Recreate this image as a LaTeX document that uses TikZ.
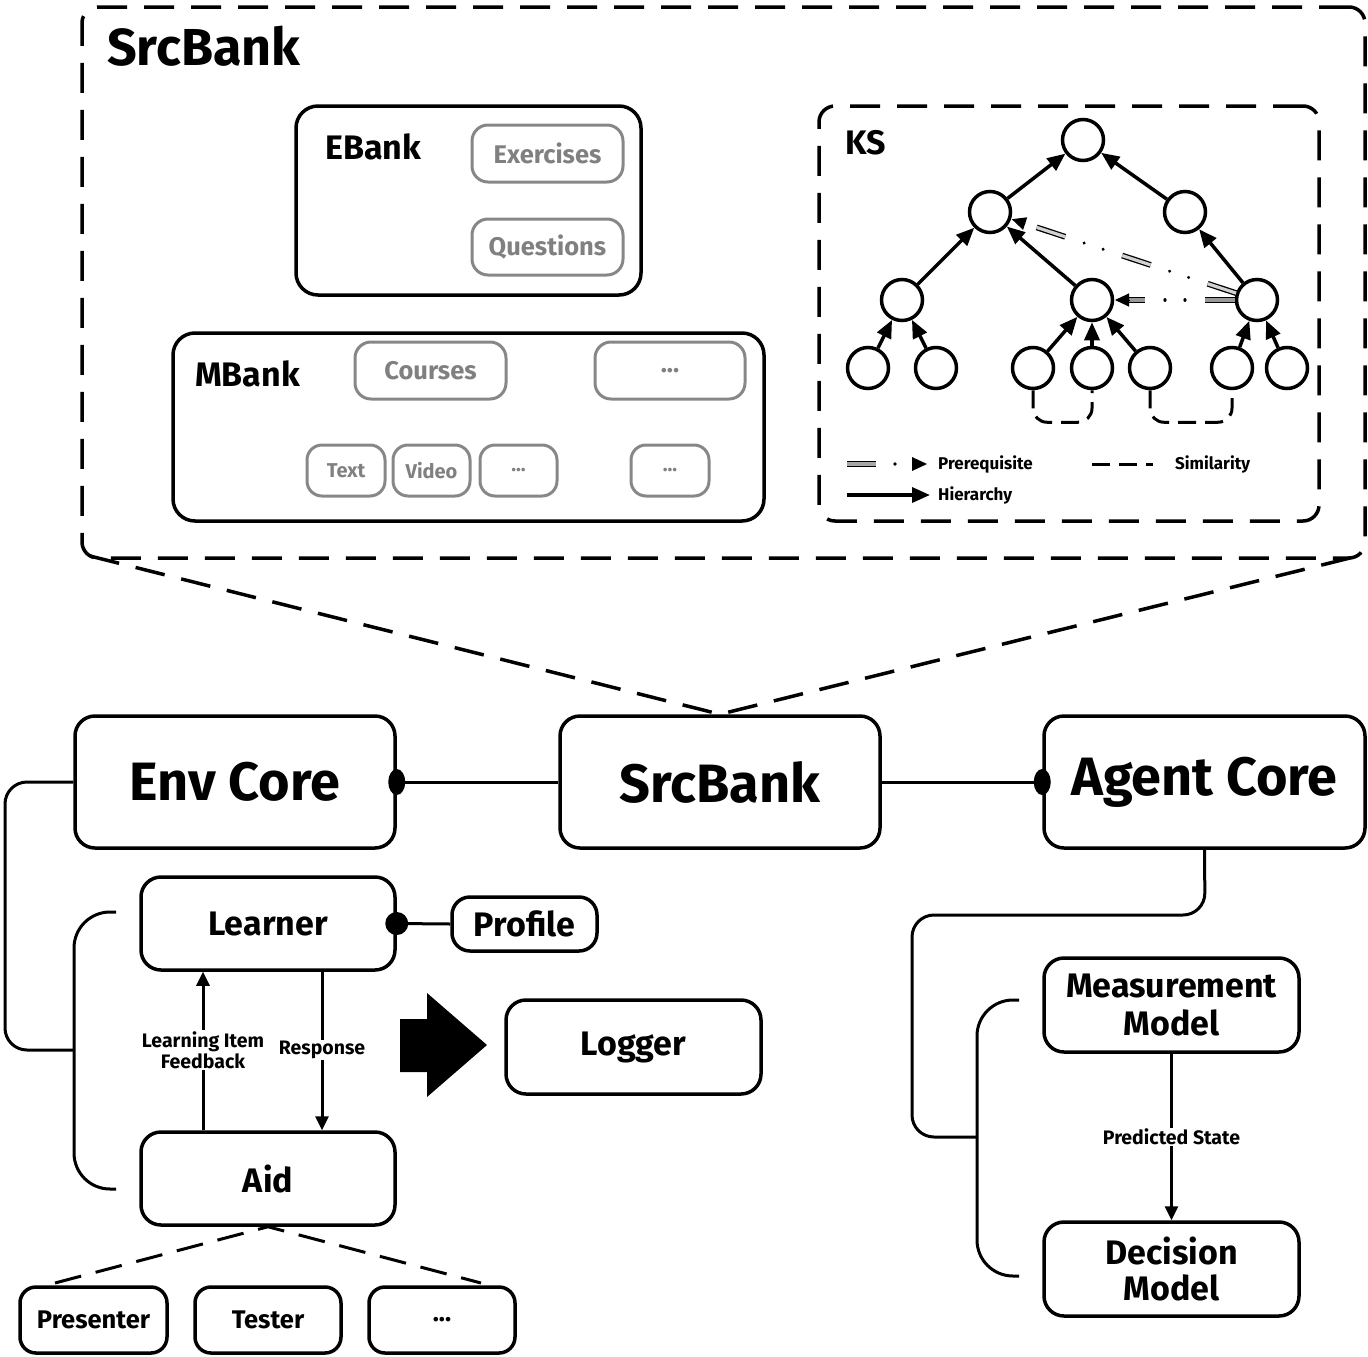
\documentclass[tikz,border=0pt]{standalone}
\usepackage{fontspec}
\setmainfont{Fira Sans}
\usetikzlibrary{arrows.meta,calc}
\newcommand\fsz[2]{\fontsize{#1pt}{#2pt}\selectfont}
\begin{document}
\begin{tikzpicture}[x=1pt,y=-1pt,
  box/.style={draw, line width=3.5pt, rounded corners=20pt, inner sep=0pt, align=center, font=\bfseries\fsz{34}{39}},
  bigbox/.style={draw, line width=3.5pt, rounded corners=20pt, inner sep=0pt, align=center, font=\bfseries\fsz{54}{60}},
  smallbox/.style={draw, line width=3.5pt, rounded corners=16pt, inner sep=0pt, font=\bfseries\fsz{25.5}{29}},
  gbox/.style={draw=black!47, line width=3pt, rounded corners=16pt, inner sep=0pt, text=black!50, font=\bfseries\fsz{25.5}{29}},
  gsbox/.style={draw=black!47, line width=3pt, rounded corners=15pt, inner sep=0pt, text=black!50, font=\bfseries\fsz{20}{23}},
  panel/.style={draw, line width=3.5pt, rounded corners=22pt, inner sep=0pt},
  dpanel/.style={draw, line width=3.5pt, rounded corners=16pt, inner sep=0pt, dash pattern=on 30pt off 17pt},
  title/.style={anchor=base west, inner sep=0pt, font=\bfseries\fsz{34}{38}},
  kn/.style={circle, draw, line width=3.5pt, minimum size=41pt, inner sep=0pt},
  hier/.style={line width=3.5pt, -{Triangle[length=18pt,width=15pt]}},
  ptip/.style={line width=1pt, -{Triangle[length=14pt,width=13pt]}},
  pbar/.style={line width=1.3pt, double=black!18, double distance=3.2pt, dash pattern=on 30pt off 60pt},
  pbarsolid/.style={line width=1.3pt, double=black!35, double distance=3.2pt},
  pdot/.style={line width=3.3pt, line cap=round, dash pattern=on 0.01pt off 20pt on 0.01pt off 69.98pt, dash phase=40pt},
  simil/.style={line width=3pt, dash pattern=on 18pt off 9pt},
  conn/.style={line width=3pt},
  arr/.style={line width=3pt, -{Triangle[length=14pt,width=13pt]}},
  bigdash/.style={line width=3.5pt, dash pattern=on 30pt off 17pt},
  lbl/.style={fill=white, inner sep=1pt, align=center, font=\bfseries\fsz{19.5}{21.5}},
  leg/.style={anchor=west, inner sep=0pt, font=\bfseries\fsz{17}{19}}
]
\useasboundingbox (0,0) rectangle (1368,1357);

% ---------------- SrcBank panel ----------------
\node[dpanel, minimum width=1283pt, minimum height=551pt] (big) at (723.5,282.5) {};
\node[title, font=\bfseries\fsz{52}{58}] (bigt) at (107,65) {SrcBank};

\node[panel, minimum width=345pt, minimum height=189pt] (ebank) at (468.5,200.5) {};
\node[title] (ebankt) at (325,159) {EBank};
\node[gbox, minimum width=151pt, minimum height=57pt] (exer) at (547.5,153.5) {Exercises};
\node[gbox, minimum width=151pt, minimum height=56pt] (ques) at (547.5,247) {Questions};

\node[panel, minimum width=591pt, minimum height=188pt] (mbank) at (468.5,427) {};
\node[title] (mbankt) at (195,386) {MBank};
\node[gbox, minimum width=151pt, minimum height=57pt] (courses) at (430.5,370.5) {Courses};
\node[gbox, minimum width=150pt, minimum height=57pt] (mdots1) at (670,370.5) {...};
\node[gsbox, minimum width=78pt, minimum height=51pt] (text) at (346,470.5) {Text};
\node[gsbox, minimum width=77pt, minimum height=51pt] (video) at (431.5,470.5) {Video};
\node[gsbox, minimum width=77pt, minimum height=51pt] (mdots2) at (518.5,470.5) {...};
\node[gsbox, minimum width=78pt, minimum height=51pt] (mdots3) at (670,470.5) {...};

% ---------------- KS ----------------
\node[dpanel, minimum width=500pt, minimum height=415pt] (ks) at (1069,313.5) {};
\node[title] (kst) at (845,154) {KS};

\node[kn] (r) at (1083,140) {};
\node[kn] (a1) at (990,212) {};
\node[kn] (a2) at (1185,212) {};
\node[kn] (b1) at (902,300) {};
\node[kn] (b2) at (1092,300) {};
\node[kn] (b3) at (1257,300) {};
\node[kn] (c1) at (868,368) {};
\node[kn] (c2) at (936,368) {};
\node[kn] (c3) at (1033,368) {};
\node[kn] (c4) at (1092,368) {};
\node[kn] (c5) at (1150,368) {};
\node[kn] (c6) at (1232,368) {};
\node[kn] (c7) at (1287,368) {};

\draw[hier] (c1) -- (b1);
\draw[hier] (c2) -- (b1);
\draw[hier] (c3) -- (b2);
\draw[hier] (c4) -- (b2);
\draw[hier] (c5) -- (b2);
\draw[hier] (c6) -- (b3);
\draw[hier] (c7) -- (b3);
\draw[hier] (b1) -- (a1);
\draw[hier] (b2) -- (a1);
\draw[hier] (b3) -- (a2);
\draw[hier] (a1) -- (r);
\draw[hier] (a2) -- (r);

% prerequisite relations
\coordinate (p1s) at ($(b3)!22pt!(a1)$);
\coordinate (p1e) at ($(a1)!23pt!(b3)$);
\coordinate (p1b) at ($(p1e)!14pt!(p1s)$);
\draw[pbar] (p1s) -- (p1b);
\draw[pdot] (p1s) -- (p1b);
\draw[ptip] (p1b) -- (p1e);

\coordinate (p2s) at ($(b3)!22pt!(b2)$);
\coordinate (p2e) at ($(b2)!23pt!(b3)$);
\coordinate (p2b) at ($(p2e)!14pt!(p2s)$);
\draw[pbar, double=black!40] (p2s) -- (p2b);
\draw[pdot] (p2s) -- (p2b);
\draw[ptip] (p2b) -- (p2e);

% similarity relations
\draw[simil, rounded corners=14pt] (c3.south) -- ++(0,32) -| (c4.south);
\draw[simil, rounded corners=14pt] (c5.south) -- ++(0,32) -| (c6.south);

% legend
\draw[pbarsolid] (847,464) -- (876,464);
\fill (895,464) circle (1.8pt);
\fill (912,457) -- (927,464) -- (912,471) -- cycle;
\node[leg] (lpre) at (938,464) {Prerequisite};
\draw[hier] (847,495) -- (930,495);
\node[leg] (lhier) at (938,495) {Hierarchy};
\draw[simil] (1092,464) -- (1153,464);
\node[leg] (lsim) at (1175,464) {Similarity};

% ---------------- main row ----------------
\node[bigbox, minimum width=320pt, minimum height=132pt] (env) at (235,782) {Env Core};
\node[bigbox, minimum width=320pt, minimum height=132pt] (src) at (720,782) {SrcBank};
\node[bigbox, minimum width=321pt, minimum height=132pt] (agent) at (1204.5,782) {Agent Core};

\coordinate (bl) at (90,556);
\coordinate (br) at (1358,556);
\draw[bigdash] (bl) -- (src.north) -- (br);

\draw[conn] (env.east) -- (src.west);
\fill (env.east) ellipse (8.5pt and 13pt);
\draw[conn] (src.east) -- (agent.west);
\fill (agent.west) ellipse (8.5pt and 13pt);

% ---------------- Env side ----------------
\node[box, minimum width=254pt, minimum height=93pt] (learner) at (268,923.5) {Learner};
\node[box, minimum width=254pt, minimum height=93pt] (aid) at (268,1178.5) {Aid};
\node[box, rounded corners=18pt, minimum width=145pt, minimum height=54pt] (profile) at (524.5,924) {Profile};
\node[box, minimum width=255pt, minimum height=94pt] (logger) at (633.5,1047) {Logger};

\coordinate (ebr) at (74,1050);
\draw[conn, rounded corners=22pt] (env.west) -- (5,782) -- (5,1050) -- (ebr);
\draw[conn, rounded corners=36pt] (116,912) -- (74,912) -- (74,1189) -- (116,1189);

\draw[conn] (learner.east) -- (profile.west);
\fill (learner.east) circle (11.5pt);

\coordinate (lfc) at (203,1050);
\coordinate (rsc) at (322,1050);
\draw[arr] (aid.north -| lfc) -- (learner.south -| lfc);
\draw[arr] (learner.south -| rsc) -- (aid.north -| rsc);
\node[lbl] (lfl) at (lfc) {Learning Item\\Feedback};
\node[lbl] (rsl) at (rsc) {Response};

\fill (400,1019) -- (427,1019) -- (427,993) -- (487,1045) -- (427,1097) -- (427,1072) -- (400,1072) -- cycle;

\node[smallbox, minimum width=147pt, minimum height=66pt] (pres) at (93.5,1320) {Presenter};
\node[smallbox, minimum width=146pt, minimum height=66pt] (tester) at (268,1320) {Tester};
\node[smallbox, minimum width=146pt, minimum height=66pt] (edots) at (442,1320) {...};
\coordinate (pl) at (55,1283);
\coordinate (pr) at (481,1283);
\draw[bigdash, line width=3pt, dash pattern=on 27pt off 15pt] (pl) -- (aid.south) -- (pr);

% ---------------- Agent side ----------------
\node[box, minimum width=255pt, minimum height=94pt, font=\bfseries\fsz{34}{38}] (meas) at (1171.5,1005) {Measurement\\Model};
\node[box, minimum width=255pt, minimum height=94pt, font=\bfseries\fsz{34}{36}] (dec) at (1171.5,1269) {Decision\\Model};

\coordinate (abr) at (977,1137);
\draw[conn, rounded corners=22pt] (agent.south) -- (1205,915) -- (912,915) -- (912,1137) -- (abr);
\draw[conn, rounded corners=36pt] (1019,1000) -- (977,1000) -- (977,1276) -- (1019,1276);

\coordinate (psc) at (1171.5,1137);
\draw[arr] (meas.south) -- (dec.north);
\node[lbl] (psl) at (psc) {Predicted State};
\end{tikzpicture}
\end{document}
